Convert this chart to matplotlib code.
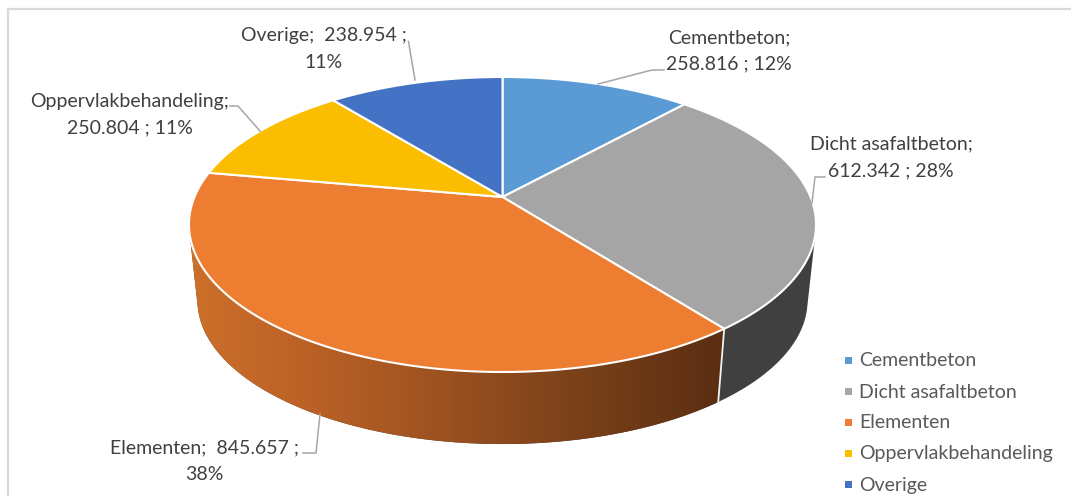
import numpy as np
import matplotlib
matplotlib.use("Agg")
import matplotlib.pyplot as plt
from matplotlib.patches import Polygon, Rectangle

plt.rcParams["font.family"] = ["Lato", "DejaVu Sans"]

categories = ["Cementbeton", "Dicht asafaltbeton", "Elementen", "Oppervlakbehandeling", "Overige"]
values = [258816, 612342, 845657, 250804, 238954]
colors = ["#5B9BD5", "#A5A5A5", "#ED7D31", "#FBBD00", "#4472C4"]

label_lines = [
    ["Cementbeton;", "258.816 ; 12%"],
    ["Dicht asafaltbeton;", "612.342 ; 28%"],
    ["Elementen;  845.657 ;", "38%"],
    ["Oppervlakbehandeling;", "250.804 ; 11%"],
    ["Overige;  238.954 ;", "11%"],
]
label_pos = [(729, 38, 64), (891, 144, 171), (204, 448, 474), (130, 102, 128), (324, 35, 62)]
leaders = [
    [(598, 84), (652, 70), (664, 70)],
    [(812, 203), (815, 177), (825, 177)],
    [(320, 414), (316, 453), (303, 453)],
    [(260, 131), (238, 106), (230, 106)],
    [(415, 80), (408.5, 41.5)],
]

# pie centre and perspective of the top face, in pixels
cx, cy = 502.5, 197.0
far, near, half_w = 120.0, 175.0, 313.5
B = 2 / (1 / far + 1 / near)
k = B / far - 1
A = half_w * np.sqrt(1 - k ** 2)
shrink, vanish_y = 0.027, 3040.0


def top_rim(theta):
    u, v = np.sin(theta), np.cos(theta)
    d = 1 + k * v
    return cx + A * u / d, cy - B * v / d


def bottom_rim(theta):
    x, y = top_rim(theta)
    return cx + (1 - shrink) * (x - cx), y + shrink * (vanish_y - y)


def hull(points):
    # monotone chain, keeps the outline of rim + extruded rim
    pts = sorted(set(points))

    def half(seq):
        out = []
        for p in seq:
            while len(out) > 1 and ((out[-1][0] - out[-2][0]) * (p[1] - out[-2][1])
                                    - (out[-1][1] - out[-2][1]) * (p[0] - out[-2][0])) <= 0:
                out.pop()
            out.append(p)
        return out[:-1]

    return half(pts) + half(pts[::-1])


fig = plt.figure(figsize=(10.71, 4.96), dpi=100)
ax = fig.add_axes([0, 0, 1, 1])

# chart frame: only top and left show in the crop
ax.plot([7.5, 7.5, 1071], [496, 8.5, 8.5], color="#D9D9D9", lw=1.6, zorder=1)

edges = np.concatenate([[0], np.cumsum(values)]) / np.sum(values) * 2 * np.pi

# side wall, grey piece is flat and the orange one has a left-right gradient
for i in [1, 2]:
    t = np.linspace(edges[i], edges[i + 1], 300)
    tx, ty = top_rim(t)
    bx, by = bottom_rim(t)
    outline = hull([(float(a), float(b)) for a, b in zip(tx, ty)]
                   + [(float(a), float(b)) for a, b in zip(bx, by)])
    side = Polygon(outline, closed=True, facecolor="#404040", edgecolor="none", zorder=2 + i * 0.1)
    ax.add_patch(side)
    if i == 2:
        gx = np.linspace(180, 730, 550)
        grad = np.stack([
            np.interp(gx, [190, 300, 400, 500, 600, 720], [0xCC, 0xBC, 0xA6, 0x8E, 0x75, 0x5B]),
            np.interp(gx, [190, 300, 400, 500, 600, 720], [0x70, 0x62, 0x57, 0x4A, 0x3E, 0x2E]),
            np.interp(gx, [190, 300, 400, 500, 600, 720], [0x2A, 0x26, 0x22, 0x1D, 0x18, 0x12]),
        ], axis=-1)[None, :, :] / 255
        im = ax.imshow(grad, extent=[180, 730, 450, 150], aspect="auto", zorder=2.5)
        im.set_clip_path(side)

# seam between the two visible side pieces
sx, sy = top_rim(edges[2])
ex, ey = bottom_rim(edges[2])
ax.plot([sx, ex], [sy, ey], color="#F2F2F2", lw=1.3, zorder=3)

# top face
for i in range(len(values)):
    t = np.linspace(edges[i], edges[i + 1], 200)
    x, y = top_rim(t)
    pts = [(cx, cy)] + list(zip(x, y))
    ax.add_patch(Polygon(pts, closed=True, facecolor=colors[i], edgecolor="white",
                         lw=1.5, joinstyle="round", zorder=4))

# data labels and leader lines
for lines, pos, leader in zip(label_lines, label_pos, leaders):
    ax.text(pos[0], pos[1], lines[0], ha="center", va="center", fontsize=14, color="#404040", zorder=6)
    ax.text(pos[0], pos[2], lines[1], ha="center", va="center", fontsize=14, color="#404040", zorder=6)
    ax.plot([p[0] for p in leader], [p[1] for p in leader], color="#A6A6A6", lw=1.1, zorder=5)

# legend
legend_y = [360, 391, 422, 453, 484]
for name, c, y in zip(categories, colors, legend_y):
    ax.add_patch(Rectangle((845, y - 3), 6.5, 6.5, facecolor=c, edgecolor="none", zorder=6))
    ax.text(859, y + 1, name, ha="left", va="center", fontsize=14, color="#595959", zorder=6)

ax.set_xlim(0, 1071)
ax.set_ylim(496, 0)
ax.axis("off")

fig.savefig("out.png", dpi=100)
